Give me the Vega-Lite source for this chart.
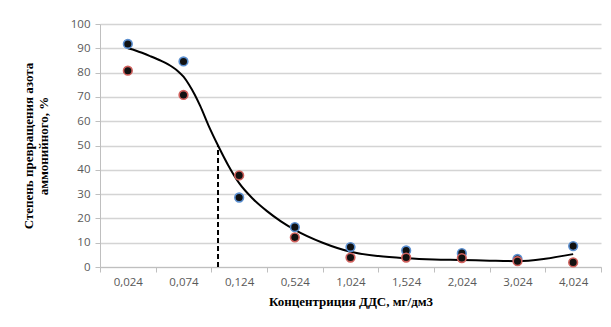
{
  "$schema": "https://vega.github.io/schema/vega-lite/v6.json",
  "width": 501,
  "height": 243,
  "autosize": {"type": "none"},
  "padding": {"left": 100, "top": 24, "right": 10, "bottom": 60},
  "background": "#ffffff",
  "config": {
    "view": {"stroke": null},
    "axis": {"labelFont": "Open Sans", "labelFontSize": 11.5, "labelColor": "#595959", "titleFont": "Liberation Serif", "titleFontSize": 13, "titleFontWeight": "bold", "titleColor": "#000000"}
  },
  "datasets": {
    "points": [
      {"idx": 0, "conc": "0,024", "series": "A", "value": 91.8},
      {"idx": 0, "conc": "0,024", "series": "B", "value": 80.8},
      {"idx": 1, "conc": "0,074", "series": "A", "value": 84.6},
      {"idx": 1, "conc": "0,074", "series": "B", "value": 70.8},
      {"idx": 2, "conc": "0,124", "series": "A", "value": 28.6},
      {"idx": 2, "conc": "0,124", "series": "B", "value": 37.7},
      {"idx": 3, "conc": "0,524", "series": "A", "value": 16.4},
      {"idx": 3, "conc": "0,524", "series": "B", "value": 12.2},
      {"idx": 4, "conc": "1,024", "series": "A", "value": 8.2},
      {"idx": 4, "conc": "1,024", "series": "B", "value": 3.9},
      {"idx": 5, "conc": "1,524", "series": "A", "value": 6.8},
      {"idx": 5, "conc": "1,524", "series": "B", "value": 3.9},
      {"idx": 6, "conc": "2,024", "series": "A", "value": 5.7},
      {"idx": 6, "conc": "2,024", "series": "B", "value": 3.7},
      {"idx": 7, "conc": "3,024", "series": "A", "value": 3.3},
      {"idx": 7, "conc": "3,024", "series": "B", "value": 2.4},
      {"idx": 8, "conc": "4,024", "series": "A", "value": 8.6},
      {"idx": 8, "conc": "4,024", "series": "B", "value": 1.9}
    ],
    "curve": [
      {"idx": 0, "value": 90},
      {"idx": 0.15, "value": 89},
      {"idx": 0.4, "value": 86.8},
      {"idx": 0.6, "value": 84.8},
      {"idx": 0.8, "value": 82.3},
      {"idx": 0.9, "value": 80.6},
      {"idx": 1.0, "value": 78.3},
      {"idx": 1.1, "value": 75},
      {"idx": 1.2, "value": 71},
      {"idx": 1.3, "value": 66.3},
      {"idx": 1.45, "value": 58.2},
      {"idx": 1.62, "value": 50},
      {"idx": 1.8, "value": 42},
      {"idx": 2.0, "value": 34.5},
      {"idx": 2.25, "value": 28},
      {"idx": 2.5, "value": 23},
      {"idx": 2.75, "value": 18.8},
      {"idx": 3.0, "value": 15.3},
      {"idx": 3.5, "value": 10},
      {"idx": 4.0, "value": 6.3},
      {"idx": 4.5, "value": 4.5},
      {"idx": 5.0, "value": 3.6},
      {"idx": 5.5, "value": 3.1},
      {"idx": 6.0, "value": 2.9},
      {"idx": 6.5, "value": 2.6},
      {"idx": 7.0, "value": 2.4},
      {"idx": 7.5, "value": 3.4},
      {"idx": 8.0, "value": 5.3}
    ],
    "marker": [
      {"idx": 1.62, "value": 0, "value2": 50}
    ]
  },
  "encoding": {
    "x": {
      "field": "idx", "type": "quantitative",
      "scale": {"domain": [-0.5, 8.5], "nice": false, "zero": false},
      "axis": {
        "values": [-0.5, 0.5, 1.5, 2.5, 3.5, 4.5, 5.5, 6.5, 7.5, 8.5],
        "labelExpr": "['0,024','0,074','0,124','0,524','1,024','1,524','2,024','3,024','4,024',''][round(datum.value + 0.5)]",
        "labelOffset": 27.8,
        "labelOverlap": false,
        "labelFlush": false,
        "labelBound": false,
        "grid": false,
        "domainColor": "#bfbfbf",
        "tickColor": "#bfbfbf",
        "tickSize": 5,
        "labelPadding": 4,
        "title": "Концентриция ДДС, мг/дм3",
        "titlePadding": 8
      }
    },
    "y": {
      "field": "value", "type": "quantitative",
      "scale": {"domain": [0, 100], "nice": false},
      "axis": {
        "values": [0, 10, 20, 30, 40, 50, 60, 70, 80, 90, 100],
        "labelOverlap": false,
        "grid": true,
        "gridColor": "#d4d4d4",
        "gridWidth": 1.5,
        "domainColor": "#bfbfbf",
        "tickColor": "#bfbfbf",
        "tickSize": 5,
        "labelPadding": 5,
        "title": ["Степень превращения азота", "аммонийного, %"],
        "titlePadding": 20
      }
    }
  },
  "layer": [
    {
      "data": {"name": "curve"},
      "mark": {"type": "line", "interpolate": "monotone", "color": "#000000", "strokeWidth": 2}
    },
    {
      "data": {"name": "marker"},
      "mark": {"type": "rule", "color": "#000000", "strokeWidth": 2, "strokeDash": [5, 3]},
      "encoding": {
        "y2": {"field": "value2"}
      }
    },
    {
      "data": {"name": "points"},
      "mark": {"type": "point", "filled": false, "fill": "#111111", "fillOpacity": 1, "strokeWidth": 1.6, "size": 75, "opacity": 1},
      "encoding": {
        "stroke": {
          "field": "series", "type": "nominal",
          "scale": {"domain": ["A", "B"], "range": ["#5b8fd0", "#d0605c"]},
          "legend": null
        }
      }
    }
  ]
}
